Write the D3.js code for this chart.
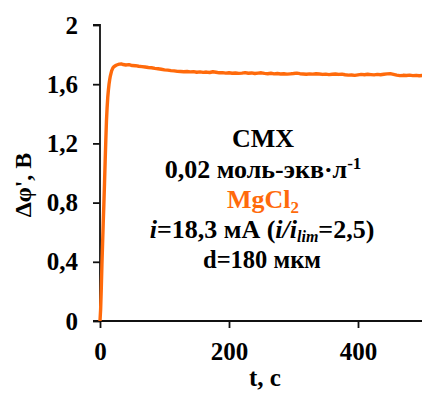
<!DOCTYPE html>
<html>
<head>
<meta charset="utf-8">
<script src="https://cdn.jsdelivr.net/npm/d3@7"></script>
<style>
  html, body { margin: 0; padding: 0; background: #fff; }
  svg { display: block; }
</style>
</head>
<body>
<script>
// Time (s) and potential drop Δφ' (V) for the membrane under current
const timeRise = [0, 1, 2, 3, 4, 5, 6, 7, 8, 9, 10, 11, 12, 13, 14, 15, 16, 18, 20, 22, 25, 28, 30, 33, 36];
const voltRise = [0, 0.08, 0.22, 0.38, 0.52, 0.66, 0.79, 0.93, 1.08, 1.22, 1.35, 1.44, 1.51, 1.56, 1.60, 1.63, 1.655, 1.69, 1.71, 1.72, 1.728, 1.733, 1.736, 1.737, 1.733];

const timePlateau = [40, 45, 50, 55, 60, 65, 70, 75, 80, 85, 90, 95, 100, 105, 110, 115, 120, 125, 130, 135,
  140, 145, 150, 155, 160, 165, 170, 175, 180, 185, 190, 195, 200, 205, 210, 215, 220, 225, 230, 235,
  240, 245, 250, 255, 260, 265, 270, 275, 280, 285, 290, 295, 300, 305, 310, 315, 320, 325, 330, 335,
  340, 345, 350, 355, 360, 365, 370, 375, 380, 385, 390, 395, 400, 405, 410, 415, 420, 425, 430, 435,
  440, 445, 450, 455, 460, 465, 470, 475, 480, 485, 490, 495, 500];
const voltPlateau = [1.730, 1.732, 1.726, 1.725, 1.721, 1.719, 1.716, 1.713, 1.711, 1.707, 1.704, 1.701, 1.697, 1.695, 1.692, 1.690, 1.687, 1.686, 1.684, 1.686,
  1.683, 1.685, 1.681, 1.683, 1.680, 1.682, 1.679, 1.684, 1.681, 1.677, 1.678, 1.675, 1.677, 1.674, 1.676, 1.673, 1.675, 1.678, 1.674, 1.676,
  1.672, 1.675, 1.677, 1.673, 1.671, 1.674, 1.670, 1.672, 1.669, 1.671, 1.668, 1.670, 1.672, 1.675, 1.671, 1.669, 1.667, 1.670, 1.668, 1.671,
  1.669, 1.666, 1.668, 1.665, 1.667, 1.669, 1.666, 1.668, 1.664, 1.661, 1.662, 1.660, 1.663, 1.666, 1.664, 1.667, 1.665, 1.663, 1.666, 1.664,
  1.667, 1.670, 1.671, 1.666, 1.661, 1.658, 1.660, 1.659, 1.661, 1.658, 1.660, 1.657, 1.659];

const xTicks = [0, 200, 400];
const yTicks = [0, 0.4, 0.8, 1.2, 1.6, 2];

const series = timeRise.map((t, i) => [t, voltRise[i]])
  .concat(timePlateau.map((t, i) => [t, voltPlateau[i]]));

const FONT = '"Liberation Serif"';
const ORANGE = "#ff6a0b";

const W = 422, H = 394;
const x = d3.scaleLinear().domain([0, 500]).range([100, 422.5]);
const y = d3.scaleLinear().domain([0, 2]).range([321, 25]);

const svg = d3.select("body").append("svg").attr("width", W).attr("height", H);

const fmt = v => String(v).replace(".", ",");

// y axis
const yAxis = svg.append("g").attr("transform", `translate(${x(0)},0)`)
  .call(d3.axisLeft(y).tickValues(yTicks).tickSize(7).tickPadding(15).tickFormat(fmt));
// x axis
const xAxis = svg.append("g").attr("transform", `translate(0,${y(0)})`)
  .call(d3.axisBottom(x).tickValues(xTicks).tickSize(7).tickPadding(14).tickFormat(fmt).tickSizeOuter(0));

[yAxis, xAxis].forEach(g => {
  g.attr("font-family", "Liberation Serif").attr("font-size", 25).attr("font-weight", "bold");
  g.select(".domain").attr("stroke", "#111").attr("stroke-width", 1.8);
  g.selectAll(".tick line").attr("stroke", "#111").attr("stroke-width", 1.8);
  g.selectAll(".tick text").attr("fill", "#000")
    .style("font-family", FONT).style("font-weight", "bold").style("font-size", "25px");
});
yAxis.select(".domain").attr("d", `M-7,${y(2)}H0V${y(0)}`);
xAxis.select(".domain").attr("d", `M${x(0) - 7},0H${W + 1}`);

// curve
svg.append("path")
  .datum(series)
  .attr("fill", "none")
  .attr("stroke", ORANGE)
  .attr("stroke-width", 3.4)
  .attr("stroke-linejoin", "round")
  .attr("d", d3.line().x(d => x(d[0])).y(d => y(d[1])));

// helper for bold serif text
const label = (parent, px) => parent.append("text")
  .attr("font-family", "Liberation Serif").attr("font-weight", "bold").attr("font-size", px)
  .style("font-family", FONT).style("font-weight", "bold").style("font-size", px + "px");

// axis titles
label(svg, 24)
  .attr("transform", "translate(31,185) rotate(-90)")
  .attr("text-anchor", "middle")
  .text("Δφ', В");

label(svg, 25)
  .attr("x", 265).attr("y", 386)
  .attr("text-anchor", "middle")
  .text("t, с");

// annotation block
const cx = 263;
const MAIN = 26, SMALL = 17;
const note = svg.append("g").attr("text-anchor", "middle");

label(note, MAIN).attr("x", cx).attr("y", 147).text("СМХ");

const l2 = label(note, MAIN).attr("x", cx).attr("y", 178);
l2.append("tspan").text("0,02 моль-экв·л");
l2.append("tspan").attr("dy", -9).style("font-size", SMALL + "px").text("-1");

const l3 = label(note, MAIN).attr("x", cx).attr("y", 208).attr("fill", ORANGE);
l3.append("tspan").text("MgCl");
l3.append("tspan").attr("dy", 5).style("font-size", SMALL + "px").text("2");

const l4 = label(note, MAIN).attr("x", cx - 1).attr("y", 238);
l4.append("tspan").style("font-style", "italic").text("i");
l4.append("tspan").text("=18,3 мА (");
l4.append("tspan").style("font-style", "italic").text("i/i");
l4.append("tspan").attr("dy", 3.5).style("font-style", "italic").style("font-size", "16px").text("lim");
l4.append("tspan").attr("dy", -3.5).text("=2,5)");

label(note, 24.5).attr("x", cx - 1).attr("y", 268).text("d=180 мкм");
</script>
</body>
</html>
